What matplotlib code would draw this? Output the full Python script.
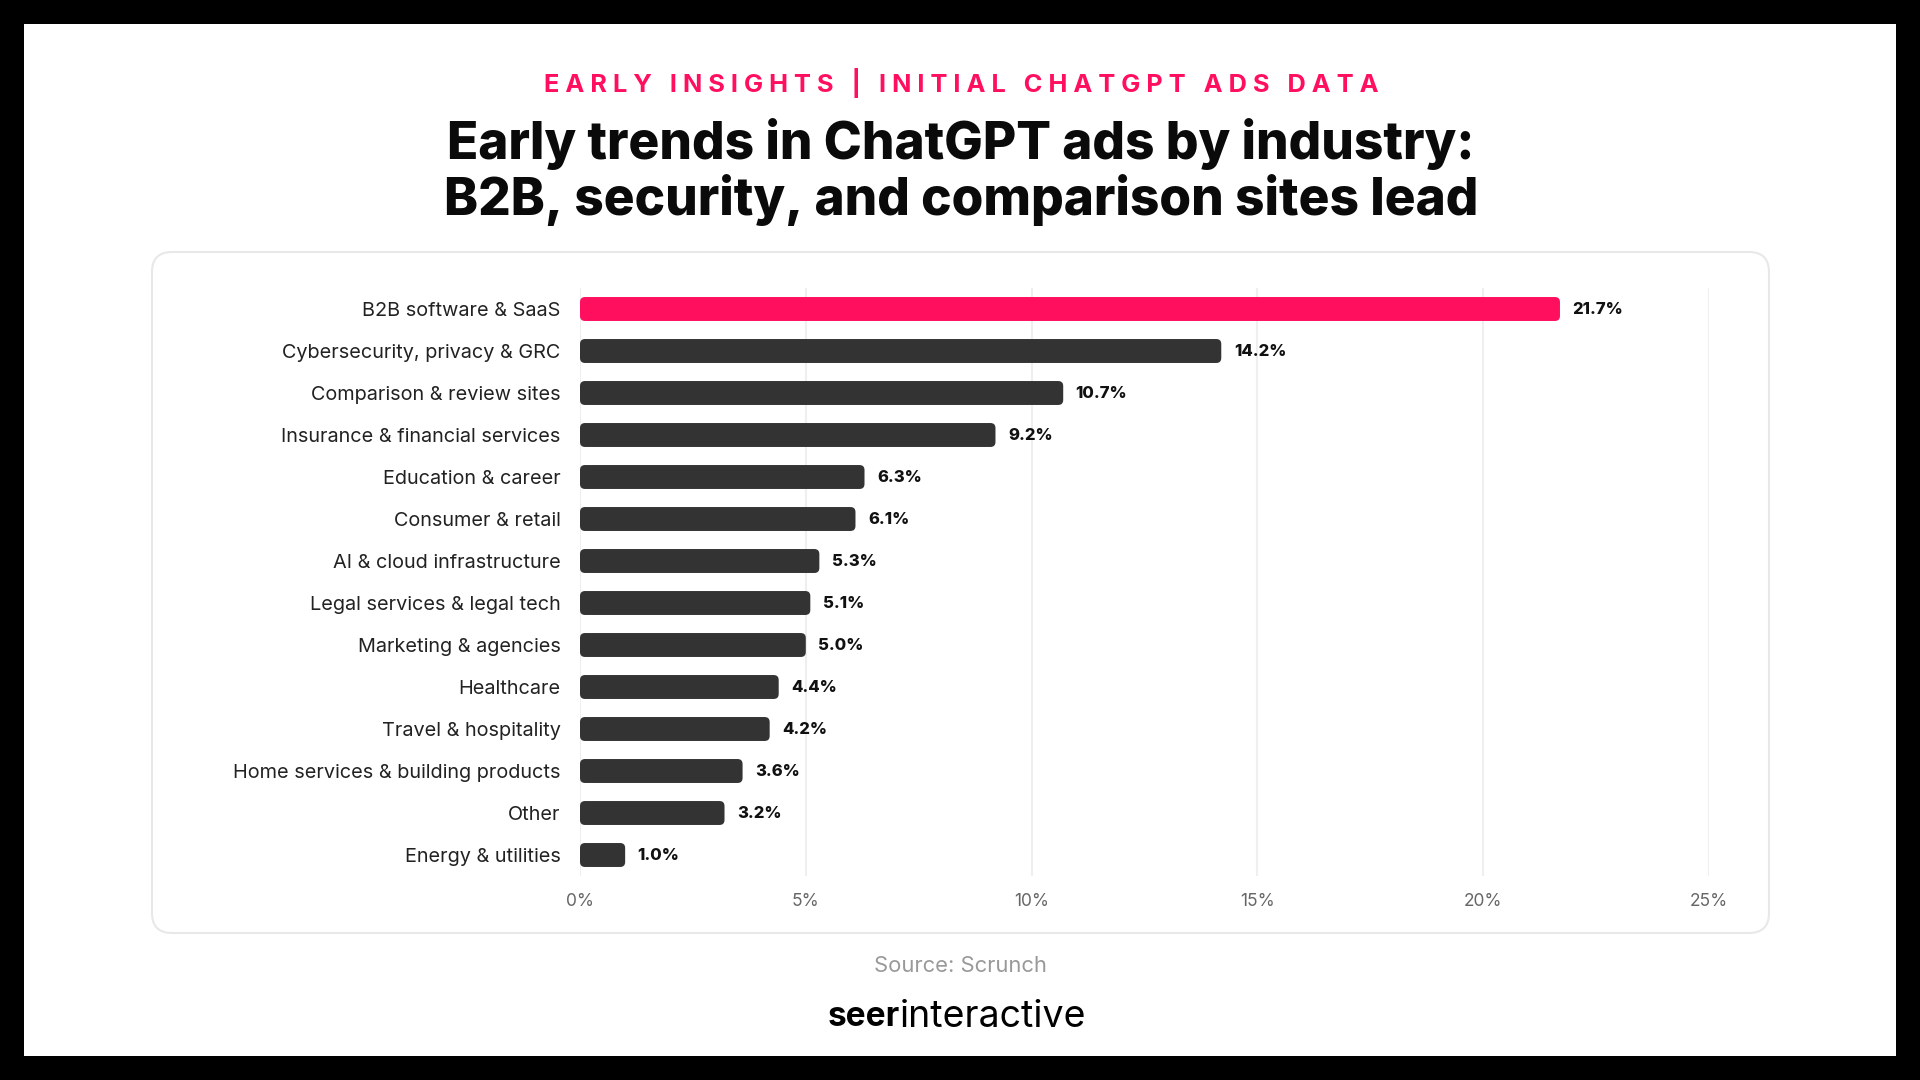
import matplotlib
matplotlib.use("Agg")
from matplotlib import pyplot as plt
from matplotlib.patches import FancyBboxPatch, Rectangle
from matplotlib.transforms import IdentityTransform

plt.rcParams["font.family"] = ["Inter", "DejaVu Sans"]

# data
industries = [
    "B2B software & SaaS",
    "Cybersecurity, privacy & GRC",
    "Comparison & review sites",
    "Insurance & financial services",
    "Education & career",
    "Consumer & retail",
    "AI & cloud infrastructure",
    "Legal services & legal tech",
    "Marketing & agencies",
    "Healthcare",
    "Travel & hospitality",
    "Home services & building products",
    "Other",
    "Energy & utilities",
]
share = [21.7, 14.2, 10.7, 9.2, 6.3, 6.1, 5.3, 5.1, 5.0, 4.4, 4.2, 3.6, 3.2, 1.0]
xticks = [0, 5, 10, 15, 20, 25]

PINK = "#FF0F5E"
DARK = "#333333"
W, H = 1920, 1080

fig = plt.figure(figsize=(19.2, 10.8), dpi=100, facecolor="black")

# white card inside the black frame
fig.patches.append(Rectangle((24, 24), W - 48, H - 48, transform=IdentityTransform(),
                             facecolor="white", edgecolor="none", zorder=-3))
# rounded panel behind the chart
fig.patches.append(FancyBboxPatch((152, H - 933), 1769 - 152, 933 - 252,
                                  boxstyle="round,pad=0,rounding_size=20",
                                  transform=IdentityTransform(), facecolor="white",
                                  edgecolor="#E8E8E8", linewidth=1.5, zorder=-2))

# axes in pixel layout: x 0..25 -> 580..1709, rows between y=288..876 (from top)
ax = fig.add_axes([580 / W, (H - 876) / H, (1709 - 580) / W, (876 - 288) / H])
ax.set_facecolor("none")

ypos = list(range(len(industries)))
colors = [PINK] + [DARK] * (len(industries) - 1)
bars = ax.barh(ypos, share, height=0.57, color=colors, zorder=3)

ax.set_xlim(0, 25)
ax.set_ylim(len(industries) - 0.5, -0.5)

# swap square bars for rounded ones
x_per_px = 25 / (1709 - 580)
y_per_px = len(industries) / (876 - 288)
for b in bars:
    b.set_visible(False)
    ax.add_patch(FancyBboxPatch((b.get_x(), b.get_y()), b.get_width(), b.get_height(),
                                boxstyle="round,pad=0,rounding_size=%f" % (5 * x_per_px),
                                mutation_aspect=y_per_px / x_per_px,
                                facecolor=b.get_facecolor(), edgecolor="none", zorder=3))

for y, v in zip(ypos, share):
    ax.annotate(f"{v:.1f}%", (v, y), xytext=(9, 0), textcoords="offset points",
                va="center", ha="left", fontsize=12, fontweight="heavy", color="#111111")

ax.set_yticks(ypos)
ax.set_yticklabels(industries, fontsize=14.3, color="#222222")
ax.set_xticks(xticks)
ax.set_xticklabels([f"{t}%" for t in xticks], fontsize=12.5, color="#666666")
ax.tick_params(axis="both", length=0)
ax.tick_params(axis="y", pad=14)
ax.tick_params(axis="x", pad=12)
ax.grid(axis="x", color="#EFEFEF", linewidth=1.5, zorder=0)
ax.set_axisbelow(True)
for s in ax.spines.values():
    s.set_visible(False)

# headings
fig.text(961 / W, 1 - 83 / H,
         "E A R L Y   I N S I G H T S   |   I N I T I A L   C H A T G P T   A D S   D A T A",
         ha="center", va="center", fontsize=18.3, fontweight="bold", color=PINK)
fig.text(961 / W, 1 - 172 / H,
         "Early trends in ChatGPT ads by industry:\nB2B, security, and comparison sites lead",
         ha="center", va="center", fontsize=37, fontweight="heavy", color="#0A0A0A",
         linespacing=1.12)

fig.text(960 / W, 1 - 966 / H, "Source: Scrunch", ha="center", va="center",
         fontsize=15.8, color="#999999")
fig.text(900 / W, 1 - 1017 / H, "seer", ha="right", va="center",
         fontsize=24, fontweight="bold", color="black")
fig.text(900 / W, 1 - 1017 / H, "interactive", ha="left", va="center",
         fontsize=27, color="black")

fig.savefig("out.png", dpi=100, facecolor="black")
